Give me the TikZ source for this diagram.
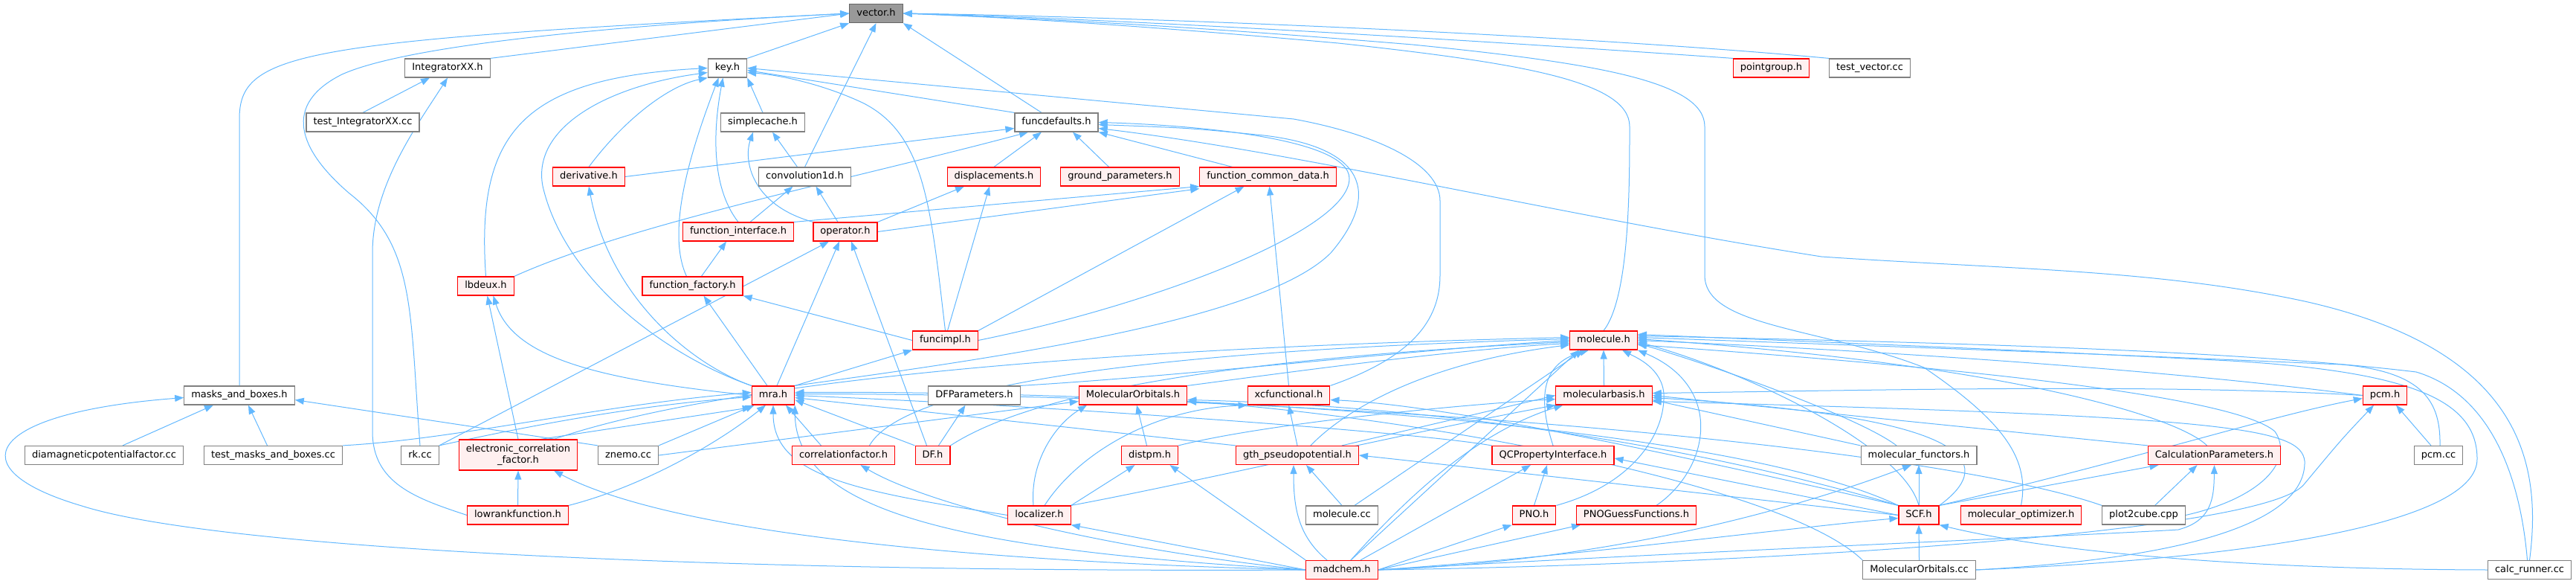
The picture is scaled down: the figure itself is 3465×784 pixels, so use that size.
\documentclass[tikz,border=0pt]{standalone}
\usepackage{fontspec}
\setmainfont{DejaVu Sans}
\usetikzlibrary{arrows.meta}
\definecolor{edgec}{HTML}{63B8FF}
\definecolor{redfill}{HTML}{FFF0F0}
\definecolor{grayb}{HTML}{808080}
\definecolor{rootfill}{HTML}{999999}
\definecolor{rootb}{HTML}{666666}
\pgfdeclarelayer{bg}
\pgfsetlayers{bg,main}
\begin{document}
\begin{tikzpicture}[x=1pt,y=-1pt,
  nbox/.style={draw=grayb, fill=white, line width=1.2pt, inner xsep=9.5pt, inner ysep=0pt, minimum height=25pt, font=\fontsize{13}{15.5}\selectfont, text height=9.8pt, text depth=3pt},
  rbox/.style={nbox, draw=red, fill=redfill},
  vbox/.style={nbox, draw=rootb, fill=rootfill},
  inc/.style={draw=edgec, line width=1pt, -{Triangle[length=12pt,width=9pt]}}]
\useasboundingbox (0,0) rectangle (3465,784);
% nodes
\node[vbox] (vec) at (1178.5,18) {vector.h};
\node[nbox] (ixx) at (602,91.5) {IntegratorXX.h};
\node[nbox] (key) at (978.5,91.5) {key.h};
\node[rbox] (pg) at (2382.5,91.5) {pointgroup.h};
\node[nbox] (tvec) at (2515,91.5) {test\_vector.cc};
\node[nbox] (tixx) at (488,164.5) {test\_IntegratorXX.cc};
\node[nbox] (sc) at (1026,164.5) {simplecache.h};
\node[nbox] (fd) at (1421,164.5) {funcdefaults.h};
\node[rbox] (der) at (792,237.5) {derivative.h};
\node[nbox] (conv) at (1082.5,237.5) {convolution1d.h};
\node[rbox] (disp) at (1337,237.5) {displacements.h};
\node[rbox] (gp) at (1506.5,237.5) {ground\_parameters.h};
\node[rbox] (fcd) at (1705.5,237.5) {function\_common\_data.h};
\node[rbox] (fi) at (993,311.5) {function\_interface.h};
\node[rbox] (op) at (1137,311.5) {operator.h};
\node[rbox] (lb) at (653.5,384.5) {lbdeux.h};
\node[rbox] (ff) at (931.5,384.5) {function\_factory.h};
\node[rbox] (fimpl) at (1271.5,457.5) {funcimpl.h};
\node[rbox] (mol) at (2157,457.5) {molecule.h};
\node[nbox] (mab) at (322,531.5) {masks\_and\_boxes.h};
\node[rbox] (mra) at (1040,531.5) {mra.h};
\node[nbox] (dfp) at (1310.5,531.5) {DFParameters.h};
\node[rbox] (mo) at (1524,531.5) {MolecularOrbitals.h};
\node[rbox] (xc) at (1733.5,531.5) {xcfunctional.h};
\node[rbox] (mb) at (2157.5,531.5) {molecularbasis.h};
\node[rbox] (pcm) at (3208,531.5) {pcm.h};
\node[nbox] (dia) at (140,612) {diamagneticpotentialfactor.cc};
\node[nbox] (tmab) at (367.5,612) {test\_masks\_and\_boxes.cc};
\node[nbox] (rk) at (565,612) {rk.cc};
\node[rbox, align=center, text height={}, text depth={}, minimum height=41pt] (ecf) at (697,611.5) {electronic\_correlation\\\_factor.h};
\node[nbox] (zn) at (845,612) {znemo.cc};
\node[rbox] (cf) at (1134.5,612) {correlationfactor.h};
\node[rbox] (df) at (1254.5,612) {DF.h};
\node[rbox] (dist) at (1546.5,612) {distpm.h};
\node[rbox] (gth) at (1745,612) {gth\_pseudopotential.h};
\node[rbox] (qc) at (2089,612) {QCPropertyInterface.h};
\node[nbox] (mf) at (2581,612) {molecular\_functors.h};
\node[rbox] (cp) at (2978.5,612) {CalculationParameters.h};
\node[nbox] (pcmcc) at (3280,612) {pcm.cc};
\node[rbox] (lrf) at (696.5,692.5) {lowrankfunction.h};
\node[rbox] (loc) at (1398,692.5) {localizer.h};
\node[nbox] (molcc) at (1805,692.5) {molecule.cc};
\node[rbox] (pno) at (2063.5,692.5) {PNO.h};
\node[rbox] (pnog) at (2201,692.5) {PNOGuessFunctions.h};
\node[rbox] (scf) at (2581,692.5) {SCF.h};
\node[rbox] (mopt) at (2718.5,692.5) {molecular\_optimizer.h};
\node[nbox] (p2c) at (2883.5,692.5) {plot2cube.cpp};
\node[rbox] (madchem) at (1805,766) {madchem.h};
\node[nbox] (moc) at (2581.5,766) {MolecularOrbitals.cc};
\node[nbox] (calc) at (3402.5,766) {calc\_runner.cc};
\begin{pgfonlayer}{bg}
% into vector.h
\draw[inc] (ixx.north east) -- (vec.west);
\draw[inc] (key.north east) -- (vec.south west);
\draw[inc] (conv.north) -- (vec.south);
\draw[inc] ([xshift=-20pt]fd.north) -- (vec.south east);
\draw[inc] (mab.north) -- (322,160) .. controls (322,70) and (400,55) .. (vec.west);
\draw[inc] (rk.north) .. controls (551,420) and (560,330) .. (470,260) .. controls (400,200) and (380,140) .. (460,100) .. controls (560,55) and (900,30) .. (vec.west);
\draw[inc] (mol.north) .. controls (2192,400) and (2192,250) .. (2192,170) .. controls (2192,110) and (2050,85) .. (1800,58) .. controls (1600,40) and (1400,25) .. (vec.east);
\draw[inc] (mopt.north) .. controls (2730,620) and (2700,570) .. (2588,494) .. controls (2450,440) and (2293,440) .. (2293,370) -- (2293,170) .. controls (2293,110) and (2150,85) .. (1900,60) .. controls (1600,35) and (1400,25) .. (vec.east);
\draw[inc] (pg.north west) .. controls (2000,55) and (1500,25) .. (vec.east);
\draw[inc] (tvec.north west) .. controls (2100,45) and (1500,22) .. (vec.east);
% into IntegratorXX.h
\draw[inc] (tixx.north) -- ([xshift=-24pt]ixx.south);
\draw[inc] (lrf.west) .. controls (560,670) and (501,650) .. (501,580) -- (501,340) .. controls (501,250) and (560,170) .. (ixx.south);
% into key.h
\draw[inc] (lb.north) .. controls (640,180) and (700,105) .. (key.west);
\draw[inc] (mra.north west) .. controls (900,480) and (760,380) .. (730,250) .. controls (715,170) and (820,115) .. ([yshift=-6pt]key.west);
\draw[inc] (der.north) .. controls (840,160) and (900,115) .. (key.south west);
\draw[inc] ([xshift=-8pt]ff.north) .. controls (895,310) and (930,200) .. ([xshift=-12pt]key.south);
\draw[inc] (fi.north) .. controls (955,250) and (960,170) .. ([xshift=-6pt]key.south);
\draw[inc] (sc.north) -- (key.south east);
\draw[inc] (fd.north west) -- ([yshift=-3pt]key.east);
\draw[inc] (fimpl.north) .. controls (1252,280) and (1245,180) .. (1160,138) .. controls (1100,110) and (1040,100) .. ([yshift=-6pt]key.east);
\draw[inc] (xc.north east) .. controls (1900,480) and (1937,430) .. (1937,370) -- (1937,270) .. controls (1937,220) and (1850,180) .. (1740,160) -- (key.east);
% into simplecache.h
\draw[inc] ([xshift=-10pt]conv.north) -- ([xshift=13pt]sc.south);
\draw[inc] (op.north west) .. controls (1010,275) and (1000,215) .. ([xshift=-13pt]sc.south);
% into funcdefaults.h
\draw[inc] (der.east) -- ([yshift=-8pt]fd.west);
\draw[inc] (lb.north east) .. controls (850,300) and (1150,240) .. ([xshift=-38pt]fd.south);
\draw[inc] (disp.north) -- ([xshift=-20pt]fd.south);
\draw[inc] ([xshift=-15pt]gp.north) -- ([xshift=22pt]fd.south);
\draw[inc] ([xshift=-48pt]fcd.north) -- (fd.south east);
\draw[inc] (fimpl.east) .. controls (1550,410) and (1815,310) .. (1815,240) .. controls (1815,185) and (1600,168) .. (fd.east);
\draw[inc] (mra.north east) .. controls (1350,480) and (1700,430) .. (1790,340) .. controls (1850,270) and (1850,200) .. (1700,182) .. controls (1600,172) .. ([yshift=-3pt]fd.east);
\draw[inc] (calc.north) .. controls (3420,620) and (3390,470) .. (3100,405) .. controls (2900,362) and (2700,362) .. (2450,345) .. controls (2100,290) and (1750,205) .. ([yshift=-8pt]fd.east);
% into convolution1d.h
\draw[inc] ([xshift=16pt]fi.north) -- ([xshift=-16pt]conv.south);
\draw[inc] ([xshift=-10pt]op.north) -- ([xshift=15pt]conv.south);
% into derivative.h
\draw[inc] (mra.north west) .. controls (930,490) and (820,400) .. (der.south);
% into displacements.h
\draw[inc] (op.north east) -- ([xshift=-40pt]disp.south);
\draw[inc] ([xshift=3pt]fimpl.north) -- ([xshift=-6pt]disp.south);
% into function_common_data.h
\draw[inc] (fi.north east) -- (fcd.south west);
\draw[inc] (op.east) -- ([yshift=-3pt]fcd.south west);
\draw[inc] (fimpl.north east) -- ([xshift=-32pt]fcd.south);
\draw[inc] (xc.north) -- ([xshift=2pt]fcd.south);
% into function_interface.h
\draw[inc] ([xshift=12pt]ff.north) -- ([xshift=-16pt]fi.south);
% into operator.h
\draw[inc] (rk.north east) -- ([xshift=-22pt]op.south);
\draw[inc] ([xshift=5pt]mra.north) -- ([xshift=-8pt]op.south);
\draw[inc] ([xshift=-8pt]df.north) -- ([xshift=8pt]op.south);
% into lbdeux.h
\draw[inc] (ecf.north) -- ([xshift=2pt]lb.south);
\draw[inc] (mra.west) .. controls (800,510) and (690,480) .. ([xshift=10pt]lb.south);
% into function_factory.h
\draw[inc] ([xshift=-8pt]mra.north) -- ([xshift=15pt]ff.south);
\draw[inc] (fimpl.west) -- (ff.south east);
% into funcimpl.h
\draw[inc] (mra.north east) -- (fimpl.south west);
% into masks_and_boxes.h
\draw[inc] ([xshift=25pt]dia.north) -- ([xshift=-35pt]mab.south);
\draw[inc] ([xshift=-8pt]tmab.north) -- ([xshift=12pt]mab.south);
\draw[inc] (zn.north west) -- ([yshift=-6pt]mab.east);
\draw[inc] (madchem.west) .. controls (1000,770) and (300,740) .. (110,680) .. controls (-60,630) and (-20,555) .. ([yshift=-3pt]mab.west);
% into electronic_correlation_factor.h
\draw[inc] (lrf.north) -- (ecf.south);
\draw[inc] (madchem.west) .. controls (1300,755) and (900,715) .. ([xshift=48pt]ecf.south);
% into mra.h
\draw[inc] (tmab.north east) .. controls (620,590) and (800,545) .. ([yshift=4pt]mra.west);
\draw[inc] (rk.north east) .. controls (700,575) and (850,545) .. ([yshift=-2pt]mra.west);
\draw[inc] ([xshift=30pt]ecf.north) -- ([yshift=-3pt]mra.south west);
\draw[inc] (zn.north east) -- ([xshift=4pt]mra.south west);
\draw[inc] (lrf.north east) .. controls (860,655) and (960,600) .. ([xshift=-10pt]mra.south);
\draw[inc] (loc.west) .. controls (1150,660) and (1040,640) .. (mra.south);
\draw[inc] (madchem.west) .. controls (1300,740) and (1070,690) .. (mra.south east);
\draw[inc] ([xshift=-30pt]cf.north) -- ([xshift=17pt]mra.south);
\draw[inc] (df.north west) -- ([yshift=-6pt]mra.east);
\draw[inc] (gth.north west) -- ([yshift=-3pt]mra.east);
\draw[inc] (qc.north west) .. controls (1900,580) and (1400,545) .. (mra.east);
\draw[inc] (p2c.north west) .. controls (2600,600) and (1800,530) .. ([yshift=2pt]mra.east);
\draw[inc] (scf.north west) .. controls (2300,560) and (1500,525) .. ([yshift=4pt]mra.east);
% into DFParameters.h
\draw[inc] ([xshift=8pt]df.north) -- ([xshift=-12pt]dfp.south);
% into MolecularOrbitals.h
\draw[inc] (zn.east) -- ([yshift=-8pt]mo.west);
\draw[inc] ([xshift=-8pt]loc.north) .. controls (1385,620) and (1420,570) .. ([xshift=-62pt]mo.south);
\draw[inc] ([xshift=-4pt]dist.north) -- ([xshift=5pt]mo.south);
\draw[inc] (scf.north west) .. controls (2250,590) and (1900,545) .. ([yshift=-6pt]mo.east);
\draw[inc] (moc.north west) .. controls (2400,650) and (1900,560) .. ([yshift=-8pt]mo.east);
% into xcfunctional.h
\draw[inc] (gth.north) -- (xc.south);
\draw[inc] ([xshift=7pt]loc.north) .. controls (1450,610) and (1550,550) .. (xc.south west);
\draw[inc] (scf.north west) .. controls (2250,610) and (1950,545) .. ([yshift=-6pt]xc.east);
% into molecule.h
\draw[inc] (mb.north) -- (mol.south);
\draw[inc] (dfp.north east) .. controls (1600,505) and (1900,470) .. (mol.west);
\draw[inc] (mo.north east) .. controls (1700,505) and (1950,470) .. ([yshift=-4pt]mol.west);
\draw[inc] ([xshift=48pt]ecf.north) .. controls (950,520) and (1400,470) .. ([yshift=4pt]mol.west);
\draw[inc] ([xshift=35pt]cf.north) .. controls (1220,510) and (1600,470) .. ([yshift=2pt]mol.west);
\draw[inc] (df.north east) .. controls (1400,520) and (1700,480) .. ([yshift=-2pt]mol.west);
\draw[inc] ([xshift=18pt]gth.north) .. controls (1800,560) and (1900,490) .. ([yshift=-6pt]mol.west);
\draw[inc] ([xshift=17pt]molcc.north) -- ([xshift=-27pt]mol.south);
\draw[inc] ([xshift=12pt]madchem.north) -- ([xshift=-33pt]mol.south);
\draw[inc] (qc.north) .. controls (2070,540) and (2070,490) .. ([xshift=-20pt]mol.south);
\draw[inc] (pno.north east) .. controls (2200,650) and (2240,580) .. (2238,530) .. controls (2236,495) and (2200,480) .. ([xshift=25pt]mol.south);
\draw[inc] ([xshift=27pt]pnog.north) .. controls (2300,630) and (2320,520) .. (mol.south east);
\draw[inc] ([xshift=-30pt]mf.north) .. controls (2500,560) and (2300,490) .. ([yshift=-4pt]mol.east);
\draw[inc] (scf.north) .. controls (2560,600) and (2350,500) .. ([yshift=-2pt]mol.east);
\draw[inc] (pcm.west) .. controls (2900,495) and (2500,470) .. (mol.east);
\draw[inc] ([xshift=-10pt]cp.north) .. controls (2930,560) and (2700,490) .. ([yshift=2pt]mol.east);
\draw[inc] ([xshift=2pt]pcmcc.north) .. controls (3283,540) and (3260,500) .. (3150,490) .. controls (2800,475) .. ([yshift=4pt]mol.east);
\draw[inc] ([xshift=-3pt]calc.north) .. controls (3390,640) and (3350,530) .. (3250,500) .. controls (3000,470) and (2600,460) .. ([yshift=6pt]mol.east);
\draw[inc] (moc.east) .. controls (3050,750) and (3332,700) .. (3332,617) .. controls (3332,540) and (3250,500) .. (3000,485) .. controls (2700,470) .. ([yshift=8pt]mol.east);
\draw[inc] (p2c.east) .. controls (3040,670) and (3087,620) .. (3060,580) .. controls (3020,545) and (2800,505) .. ([yshift=-6pt]mol.east);
% into molecularbasis.h
\draw[inc] ([xshift=60pt]gth.north) -- (mb.west);
\draw[inc] ([xshift=12pt]madchem.north) .. controls (1900,660) and (1990,580) .. ([xshift=10pt]mb.south west);
\draw[inc] (dist.north east) .. controls (1700,570) and (1950,545) .. ([yshift=-5pt]mb.west);
\draw[inc] (loc.north east) .. controls (1600,650) and (1900,580) .. (mb.south west);
\draw[inc] (scf.north east) .. controls (2690,620) and (2650,560) .. ([yshift=-3pt]mb.east);
\draw[inc] (mf.north west) -- ([yshift=-6pt]mb.east);
\draw[inc] (cp.north west) -- (mb.east);
\draw[inc] (pcm.west) .. controls (2900,515) and (2500,525) .. ([yshift=3pt]mb.east);
\draw[inc] (moc.east) .. controls (2950,750) and (3102,700) .. (3100,620) .. controls (3095,575) and (3000,560) .. ([yshift=-8pt]mb.east);
% into distpm.h
\draw[inc] (loc.north east) -- ([xshift=-20pt]dist.south);
\draw[inc] (madchem.north west) -- ([xshift=27pt]dist.south);
% into localizer.h
\draw[inc] (madchem.west) -- (loc.south east);
% into correlationfactor.h
\draw[inc] (madchem.west) .. controls (1500,740) and (1250,680) .. ([xshift=23pt]cf.south);
% into gth_pseudopotential.h
\draw[inc] ([xshift=-20pt]madchem.north) .. controls (1745,720) and (1740,680) .. ([xshift=-5pt]gth.south);
\draw[inc] (molcc.north) -- ([xshift=12pt]gth.south);
\draw[inc] (scf.west) .. controls (2350,670) and (1950,625) .. (gth.east);
% into QCPropertyInterface.h
\draw[inc] ([xshift=25pt]madchem.north) -- ([xshift=-30pt]qc.south);
\draw[inc] (pno.north) -- ([xshift=-8pt]qc.south);
\draw[inc] (scf.west) -- ([yshift=-4pt]qc.east);
% into PNO.h / PNOGuessFunctions.h
\draw[inc] (madchem.east) -- (pno.south west);
\draw[inc] (madchem.east) -- ([xshift=-75pt]pnog.south);
% into SCF.h
\draw[inc] (madchem.east) .. controls (2100,750) and (2400,710) .. ([yshift=-4pt]scf.west);
\draw[inc] (moc.north) -- (scf.south);
\draw[inc] (calc.west) .. controls (3000,765) and (2750,740) .. (scf.south east);
% into molecular_functors.h
\draw[inc] (scf.north) -- (mf.south);
\draw[inc] (madchem.east) .. controls (2150,755) and (2400,690) .. ([xshift=-10pt]mf.south);
% into CalculationParameters.h
\draw[inc] (scf.north east) -- ([xshift=-75pt]cp.south);
\draw[inc] ([xshift=15pt]p2c.north) -- ([xshift=-23pt]cp.south);
\draw[inc] (madchem.east) .. controls (2200,745) and (2800,720) .. (2930,712) .. controls (2975,700) and (2978,670) .. (cp.south);
% into pcm.h
\draw[inc] (scf.north east) .. controls (2900,610) and (3050,560) .. ([yshift=-4pt]pcm.west);
\draw[inc] ([xshift=-10pt]pcmcc.north) -- ([xshift=15pt]pcm.south);
\draw[inc] (madchem.east) .. controls (2300,760) and (3050,720) .. (3100,650) .. controls (3150,590) .. ([xshift=-15pt]pcm.south);
\end{pgfonlayer}
\end{tikzpicture}
\end{document}
